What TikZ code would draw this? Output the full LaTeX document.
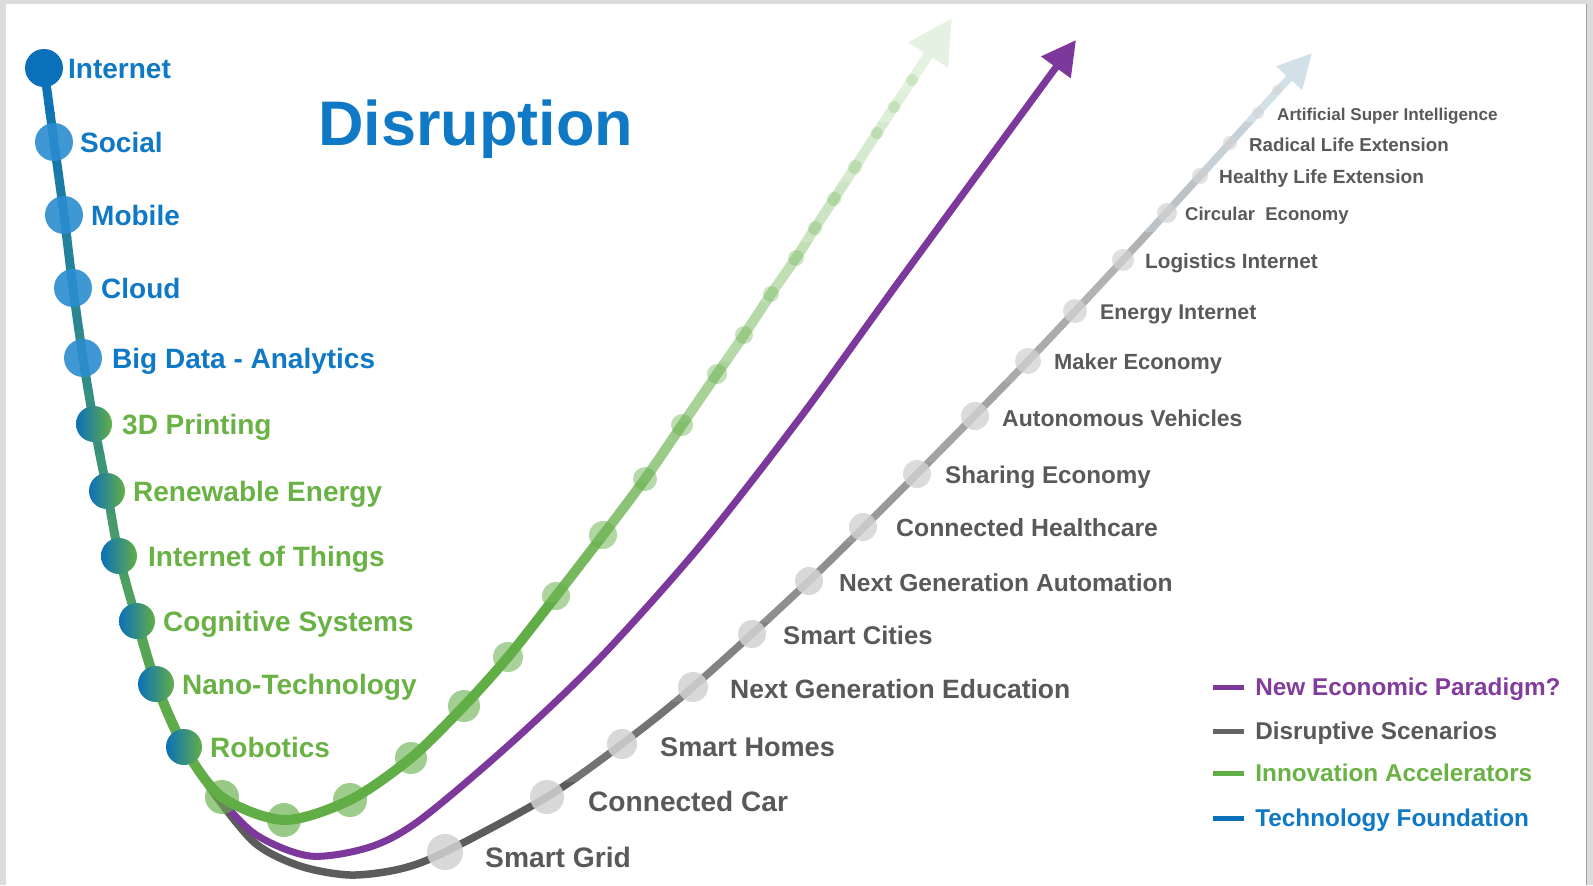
\documentclass[tikz,border=0pt]{standalone}
\usepackage{fontspec}
\setmainfont{Liberation Sans}
\usepackage{xcolor}
\usetikzlibrary{positioning}
\usetikzlibrary{arrows.meta}

\definecolor{tblue}{RGB}{11,112,186}
\definecolor{sblue}{RGB}{43,141,208}
\definecolor{txtblue}{RGB}{16,121,197}
\definecolor{tgreen}{RGB}{98,174,70}
\definecolor{txtgreen}{RGB}{106,178,69}
\definecolor{ppurple}{RGB}{125,56,156}
\definecolor{txtpurple}{RGB}{130,60,156}
\definecolor{txtgray}{RGB}{88,89,91}
\definecolor{dgray}{RGB}{100,100,102}
\definecolor{gb1}{RGB}{188,195,199}
\definecolor{gb2}{RGB}{198,209,215}
\definecolor{gb3}{RGB}{210,224,232}
\definecolor{framegray}{RGB}{220,220,220}

\newcommand{\trunkpath}{plot[smooth] coordinates {(t1) (t2) (t3) (t4) (t5) (t6) (t7) (t8) (t9) (t10) (t11)}}
\newcommand{\greenpath}{plot[smooth] coordinates {(t9) (t10) (t11) (g1) (g2) (g3) (g4) (g5) (g6) (g7) (g8) (g9) (g10) (g11) (g12) (g13) (g14) (g15) (g16) (g17) (g18) (g19) (g20) (gtip)}}
\newcommand{\graypath}{plot[smooth] coordinates {(t7) (t8) (t9) (t10) (t11) (s1) (s2) (s3) (s4) (s5) (d1) (d2) (d3) (d4) (d6) (d8) (d10) (d12) (d14) (dtip)}}

\begin{document}
\begin{tikzpicture}[
x=1pt, y=-1pt,
every node/.style = {inner sep=0pt},
lbl/.style = {anchor=west, font=\bfseries\fontsize{28}{28}\selectfont, text height=20pt, text depth=0pt},
legfont/.style = {font=\bfseries\fontsize{24.3}{24.3}\selectfont, text height=17.4pt},
topdot/.style = {circle, fill=tblue, minimum size=38pt},
bluedot/.style = {circle, fill=sblue, fill opacity=.9, minimum size=38pt},
mixdot/.style = {circle, left color=tblue, right color=tgreen, minimum size=36pt},
greendot/.style = {circle, fill=tgreen},
graydot/.style = {circle, fill=gray!35},
swatch/.style = {minimum width=31pt, minimum height=5pt},
trunkline/.style = {line width=9pt},
riseline/.style = {line width=10pt, -{Triangle[length=44pt, width=44pt]}},
scenline/.style = {line width=7.5pt, -{Triangle[length=34pt, width=33pt]}},
paraline/.style = {line width=7pt, ppurple, -{Triangle[length=34pt, width=35pt]}},
]
% frame
\fill[framegray] (0,0) rectangle (1593,885);
\fill[white] (6,4) rectangle (1586,885);
\draw[gray!75, line width=1.5pt] (1586.5,4) -- (1586.5,885);
\useasboundingbox (0,0) rectangle (1593,885);

% points
\foreach \nm/\x/\y in {t1/44/68, t2/54/142, t3/64/215, t4/73/288, t5/83/358, t6/94/424,
  t7/107/491, t8/119/556, t9/137/621, t10/156/684, t11/184/747}
  \coordinate (\nm) at (\x,\y);
\foreach \nm/\x/\y in {g1/222/797, g2/284/820, g3/350/800, g4/411/758, g5/464/706,
  g6/508/657, g7/556/596, g8/603/535, g9/645/479, g10/682/425, g11/717/374,
  g12/744/335, g13/771/294, g14/796/258, g15/815/228, g16/834/199, g17/855/167,
  g18/877/133, g19/894/107, g20/912/80, gtip/952/18}
  \coordinate (\nm) at (\x,\y);
\foreach \nm/\x/\y in {d1/445/852, d2/547/797, d3/622/744, d4/693/687, d5/752/634,
  d6/809/581, d7/863/527, d8/917/474, d9/975/416, d10/1028/361, d11/1075/311,
  d12/1123/260, d13/1167/213, d14/1200/176, d15/1230/143, d16/1258/113,
  d17/1277/90, dtip/1312/53}
  \coordinate (\nm) at (\x,\y);
\foreach \nm/\x/\y in {s1/213/792, s2/255/843, s3/300/866, s4/350/875, s5/400/869}
  \coordinate (\nm) at (\x,\y);
\foreach \nm/\x/\y in {p1/213/790, p2/255/834, p3/310/856, p4/370/847, p5/420/820,
  p6/510/744, p7/600/658, p8/700/546, p9/800/418, p10/900/280, ptip/1076/40}
  \coordinate (\nm) at (\x,\y);

% disruptive scenarios
\foreach \ya/\yb/\col in {780/890/black!64!white, 700/781/black!55!white,
  620/701/black!49!white, 540/621/black!44!white, 460/541/black!40!white,
  380/461/black!36!white, 300/381/black!33!white, 230/301/black!30!white,
  170/231/gb1, 120/171/gb2, -10/121/gb3}{
  \begin{scope}
    \clip (0,\ya) rectangle (1593,\yb);
    \draw[scenline, color=\col] \graypath;
  \end{scope}
}

% new economic paradigm
\draw[paraline] plot[smooth] coordinates {(t7) (t8) (t9) (t10) (t11) (p1) (p2) (p3)
  (p4) (p5) (p6) (p7) (p8) (p9) (p10) (ptip)};

% innovation accelerators
\foreach \ya/\yb/\pc in {600/890/100, 540/601/86, 480/541/74, 420/481/64, 360/421/55,
  300/361/47, 240/301/40, 180/241/33, 120/181/26, 90/121/21, -10/91/16}{
  \begin{scope}
    \clip (0,\ya) rectangle (1593,\yb);
    \draw[riseline, color=tgreen!\pc!white] \greenpath;
  \end{scope}
}

% technology foundation
\foreach \k in {0,...,22}{
  \pgfmathtruncatemacro\pc{100*\k/22}
  \begin{scope}
    \clip (0,{50+31*\k}) rectangle (300,{82+31*\k});
    \draw[trunkline, color=tgreen!\pc!tblue] \trunkpath;
  \end{scope}
}

% dots
\foreach \nm/\r/\op in {g1/17/.65, g2/17/.65, g3/17/.62, g4/16/.6, g5/16/.58, g6/15/.55,
  g7/14/.52, g8/14/.5, g9/12/.46, g10/11/.42, g11/10/.38, g12/9/.35, g13/8/.32,
  g14/8/.3, g15/7/.28, g16/7/.26, g17/7/.24, g18/6/.22, g19/6/.2, g20/6/.2}
  \node[greendot, minimum size=2*\r pt, fill opacity=\op] (\nm dot) at (\nm) {};
\foreach \nm/\r/\op in {d1/18/.85, d2/17/.85, d3/15/.85, d4/15/.85, d5/14/.85, d6/14/.85,
  d7/14/.8, d8/14/.8, d9/14/.8, d10/13/.75, d11/12/.75, d12/11/.7, d13/10/.7,
  d14/8/.65, d15/7/.6, d16/6/.55, d17/5/.5}
  \node[graydot, minimum size=2*\r pt, fill opacity=\op] (\nm dot) at (\nm) {};
\node[topdot] (t1dot) at (t1) {};
\foreach \nm in {t2,t3,t4,t5}
  \node[bluedot] (\nm dot) at (\nm) {};
\foreach \nm in {t6,t7,t8,t9,t10,t11}
  \node[mixdot] (\nm dot) at (\nm) {};

% labels
\foreach \nm/\gap/\col/\txt in {t1/24pt/txtblue/Internet, t2/26pt/txtblue/Social,
  t3/27pt/txtblue/Mobile, t4/28pt/txtblue/Cloud, t5/29pt/txtblue/Big Data - Analytics,
  t6/28pt/txtgreen/3D Printing, t7/26pt/txtgreen/Renewable Energy,
  t8/29pt/txtgreen/Internet of Things, t9/26pt/txtgreen/Cognitive Systems,
  t10/26pt/txtgreen/Nano-Technology, t11/26pt/txtgreen/Robotics}
  \node[lbl, text=\col, right=\gap of \nm] (\nm txt) {\txt};

\foreach \nm/\fs/\gap/\dy/\txt in {d1/28.2/40/5/Smart Grid, d2/28.1/41/4/Connected Car,
  d3/27.1/38/3/Smart Homes, d4/26.5/37/2/Next Generation Education,
  d5/25.6/31/1/Smart Cities, d6/24.6/30/2/Next Generation Automation,
  d7/24.8/33/1/Connected Healthcare, d8/24.2/28/1/Sharing Economy,
  d9/23/27/2/Autonomous Vehicles, d10/21.9/26/1/Maker Economy,
  d11/21.3/25/1/Energy Internet, d12/20.7/22/1/Logistics Internet,
  d13/18.5/18/1/Circular\ \ Economy, d14/19.1/19/1/Healthy Life Extension,
  d15/18.7/19/2/Radical Life Extension, d16/17.1/19/1/Artificial Super Intelligence}{
  \pgfmathsetmacro\th{0.716*\fs}
  \node[lbl, text=txtgray, font=\bfseries\fontsize{\fs}{\fs}\selectfont,
    text height=\th pt, right=\gap pt of \nm, yshift=-\dy pt] (\nm txt) {\txt};
}

% title
\node[anchor=base west, text=txtblue, font=\bfseries\fontsize{63}{63}\selectfont]
  (title) at (318,145) {Disruption};

% legend
\foreach \nm/\y/\fcol/\tcol/\txt in {lg1/687/ppurple/txtpurple/New Economic Paradigm?,
  lg2/731/dgray/txtgray/Disruptive Scenarios,
  lg3/773/tgreen/txtgreen/Innovation Accelerators,
  lg4/818/tblue/txtblue/Technology Foundation}{
  \node[swatch, fill=\fcol] (\nm) at (1228.5,\y) {};
  \node[lbl, legfont, text=\tcol, right=11pt of \nm] (\nm txt) {\txt};
}

\end{tikzpicture}
\end{document}
